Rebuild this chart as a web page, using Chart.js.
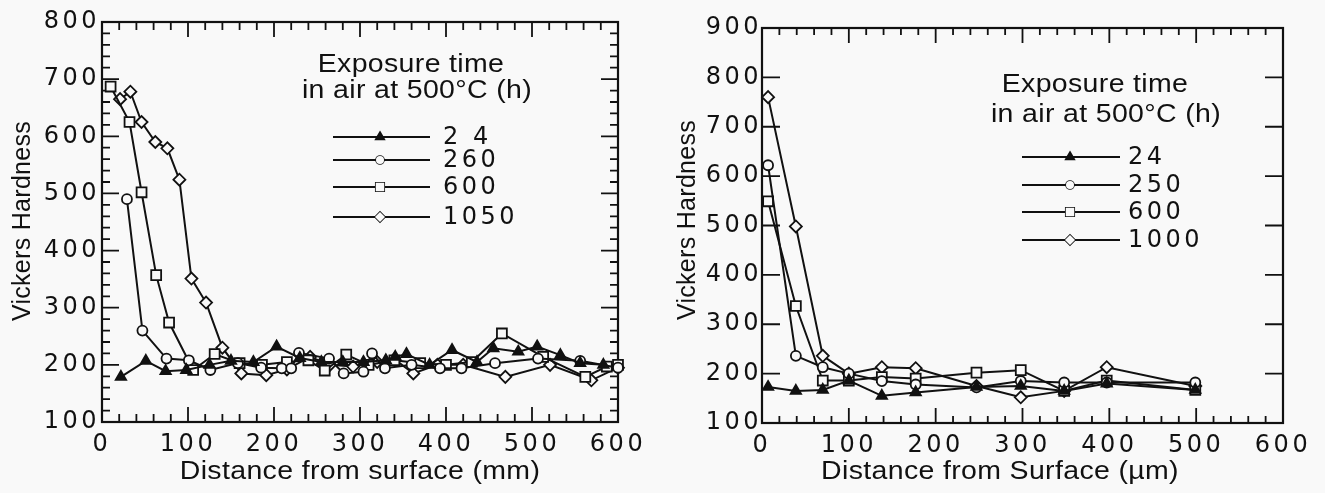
<!DOCTYPE html>
<html>
<head>
<meta charset="utf-8">
<script src="https://cdn.jsdelivr.net/npm/chart.js@4.4.1/dist/chart.umd.min.js"></script>
<style>
  html, body { margin: 0; padding: 0; background: #f9f9f9; }
  #wrap { position: relative; width: 1325px; height: 493px; }
  canvas { position: absolute; top: 0; }
</style>
</head>
<body>
<div id="wrap">
  <canvas id="left" width="660" height="493" style="left:0;width:660px;height:493px"></canvas>
  <canvas id="right" width="665" height="493" style="left:660px;width:665px;height:493px"></canvas>
</div>
<script>
// ---- left panel: hardness profiles, 24 / 260 / 600 / 1050 h ----
const leftLabels = ['2 4', '260', '600', '1050'];
const left24x   = [22, 51, 74, 98, 125, 150, 176, 203, 230, 255, 280, 304, 330, 341, 354, 381, 407, 436, 455, 484, 506, 533, 556, 583];
const left24y   = [179, 207, 189, 191, 200, 207, 205, 232, 212, 205, 205, 205, 208, 214, 219, 200, 226, 205, 229, 223, 232, 217, 203, 200];
const left260x  = [29, 47, 75, 101, 126, 158, 185, 209, 220, 229, 264, 281, 304, 314, 329, 360, 393, 418, 457, 507, 556, 600];
const left260y  = [490, 260, 211, 208, 191, 203, 195, 194, 194, 221, 211, 185, 188, 220, 194, 200, 194, 194, 203, 211, 207, 195];
const left600x  = [10, 32, 46, 63, 78, 106, 131, 160, 186, 215, 240, 259, 284, 310, 340, 370, 400, 430, 465, 513, 562, 587, 600];
const left600y  = [687, 625, 502, 357, 274, 191, 219, 203, 200, 205, 208, 190, 218, 200, 208, 203, 200, 205, 255, 214, 179, 197, 200];
const left1050x = [21, 33, 46, 62, 76, 90, 104, 121, 140, 162, 191, 215, 242, 265, 292, 320, 340, 362, 390, 420, 469, 521, 569, 600];
const left1050y = [665, 678, 625, 590, 579, 524, 351, 309, 230, 185, 182, 192, 214, 200, 197, 205, 210, 185, 200, 200, 179, 200, 173, 195];

// ---- right panel: 24 / 250 / 600 / 1000 h ----
const rightLabels = ['24', '250', '600', '1000'];
const rightX     = [7, 39, 70, 100, 138, 177, 247, 298, 348, 397, 499];
const right24y   = [173, 165, 167, 186, 155, 162, 173, 175, 165, 180, 167];
const right250y  = [622, 236, 213, 200, 185, 178, 172, 185, 182, 182, 182];
const right600y  = [549, 337, 186, 186, 193, 190, 202, 207, 165, 186, 167];
const right1000y = [760, 498, 236, 200, 213, 211, 175, 152, 165, 213, 175];

const INK = '#111';
const BG = '#f9f9f9';

const markers = [
  { pointStyle: 'triangle', pointRadius: 6,   pointBackgroundColor: INK },
  { pointStyle: 'circle',   pointRadius: 5,   pointBackgroundColor: BG },
  { pointStyle: 'rect',     pointRadius: 7,   pointBackgroundColor: BG },
  { pointStyle: 'rectRot',  pointRadius: 6,   pointBackgroundColor: BG }
];

function series(label, xs, ys, i) {
  return Object.assign({
    label,
    data: xs.map((v, k) => ({ x: v, y: ys[k] })),
    showLine: true,
    borderColor: INK,
    borderWidth: 2,
    pointBorderColor: INK,
    pointBorderWidth: 1.8,
    tension: 0,
    clip: false
  }, markers[i]);
}

// box + inward tick marks along the four sides
const frameTicks = {
  id: 'frameTicks',
  beforeDraw(chart) {
    chart.ctx.letterSpacing = '3.5px';
  },
  beforeDatasetsDraw(chart, args, opts) {
    const { ctx, chartArea: a, scales: { x, y } } = chart;
    ctx.save();
    ctx.letterSpacing = '0px';
    ctx.strokeStyle = INK;
    ctx.lineWidth = 2.2;
    ctx.strokeRect(a.left, a.top, a.right - a.left, a.bottom - a.top);
    ctx.lineWidth = 1.8;
    ctx.beginPath();
    const run = (scale, spec, draw) => {
      if (!spec) return;
      for (let v = scale.min; v <= scale.max + 1e-6; v += spec.step) {
        const major = Math.abs(v % 100) < 1e-6;
        const len = major ? spec.major : spec.minor;
        if (len > 0) draw(scale.getPixelForValue(v), len);
      }
    };
    run(x, opts.bottom, (p, l) => { ctx.moveTo(p, a.bottom); ctx.lineTo(p, a.bottom - l); });
    run(x, opts.top,    (p, l) => { ctx.moveTo(p, a.top);    ctx.lineTo(p, a.top + l); });
    run(y, opts.left,   (p, l) => { ctx.moveTo(a.left, p);   ctx.lineTo(a.left + l, p); });
    run(y, opts.right,  (p, l) => { ctx.moveTo(a.right, p);  ctx.lineTo(a.right - l, p); });
    ctx.stroke();
    ctx.restore();
  }
};

// stretched Helvetica-like captions, the legend block and axis titles
function caption(ctx, text, x, y, rot) {
  ctx.save();
  ctx.translate(x, y);
  if (rot) ctx.rotate(-Math.PI / 2); else ctx.scale(1.14, 1);
  ctx.letterSpacing = '0.3px';
  ctx.font = '25px "Liberation Sans", Arial, sans-serif';
  ctx.fillStyle = INK;
  ctx.textAlign = 'center';
  ctx.textBaseline = 'middle';
  ctx.fillText(text, 0, 0);
  ctx.restore();
}

const annotate = {
  id: 'annotate',
  afterDraw(chart, args, o) {
    const ctx = chart.ctx;
    caption(ctx, 'Exposure time', o.head[0], o.head[1]);
    caption(ctx, 'in air at 500\u00B0C (h)', o.head2[0], o.head2[1]);
    chart.data.datasets.forEach((ds, i) => {
      const yy = o.rows[i];
      ctx.save();
      ctx.strokeStyle = INK;
      ctx.lineWidth = 2;
      ctx.beginPath();
      ctx.moveTo(o.line[0], yy);
      ctx.lineTo(o.line[1], yy);
      ctx.stroke();
      ctx.fillStyle = ds.pointBackgroundColor;
      ctx.lineWidth = 1.6;
      Chart.helpers.drawPoint(ctx, {
        pointStyle: ds.pointStyle, radius: ds.pointRadius - 1, borderWidth: 1.6, rotation: 0
      }, o.mark, yy);
      ctx.fill();
      ctx.letterSpacing = '3.5px';
      ctx.font = '24px "DejaVu Sans", sans-serif';
      ctx.fillStyle = INK;
      ctx.textAlign = 'left';
      ctx.textBaseline = 'middle';
      ctx.fillText(ds.label, o.text, yy + 1);
      ctx.restore();
    });
    caption(ctx, o.xTitle, o.xPos[0], o.xPos[1]);
    caption(ctx, 'Vickers Hardness', o.yPos[0], o.yPos[1], true);
  }
};

const tickFont = { family: '"DejaVu Sans", sans-serif', size: 24 };

function panel(id, p) {
  return new Chart(document.getElementById(id), {
    type: 'scatter',
    data: { datasets: p.datasets },
    options: {
      responsive: false,
      animation: false,
      devicePixelRatio: 1,
      layout: { padding: { left: 0, top: p.top, right: p.right, bottom: 0 } },
      plugins: {
        legend: { display: false },
        tooltip: { enabled: false },
        frameTicks: p.ticks,
        annotate: p.notes
      },
      scales: {
        x: {
          type: 'linear', min: 0, max: 600,
          ticks: { stepSize: 100, autoSkip: false, maxRotation: 0, font: tickFont, color: INK, padding: 8 },
          grid: { display: false, drawTicks: false },
          border: { display: false },
          afterFit(s) { s.height = 493 - p.bottom; }
        },
        y: {
          type: 'linear', min: 100, max: p.yMax,
          ticks: { stepSize: 100, autoSkip: false, font: tickFont, color: INK, padding: p.yPad },
          grid: { display: false, drawTicks: false },
          border: { display: false },
          afterFit(s) { s.width = p.leftEdge; }
        }
      }
    },
    plugins: [frameTicks, annotate]
  });
}

panel('left', {
  datasets: [
    series(leftLabels[0], left24x, left24y, 0),
    series(leftLabels[1], left260x, left260y, 1),
    series(leftLabels[2], left600x, left600y, 2),
    series(leftLabels[3], left1050x, left1050y, 3)
  ],
  top: 22, bottom: 422, right: 42, leftEdge: 102, yMax: 800, yPad: 2,
  ticks: {
    bottom: { step: 20, minor: 8, major: 15 },
    top:    { step: 20, minor: 8, major: 15 },
    left:   { step: 20, minor: 8, major: 17 },
    right:  { step: 20, minor: 8, major: 17 }
  },
  notes: {
    head: [411, 65], head2: [417, 91],
    rows: [137, 160, 187, 217], line: [333, 430], mark: 380, text: 443,
    xTitle: 'Distance from surface (mm)', xPos: [360, 472], yPos: [23, 221]
  }
});

panel('right', {
  datasets: [
    series(rightLabels[0], rightX, right24y, 0),
    series(rightLabels[1], rightX, right250y, 1),
    series(rightLabels[2], rightX, right600y, 2),
    series(rightLabels[3], rightX, right1000y, 3)
  ],
  top: 28, bottom: 423, right: 42, leftEdge: 102, yMax: 900, yPad: 0,
  ticks: {
    bottom: { step: 20, minor: 7, major: 15 },
    top:    { step: 20, minor: 7, major: 15 },
    left:   { step: 100, minor: 0, major: 18 },
    right:  { step: 100, minor: 0, major: 18 }
  },
  notes: {
    head: [1095 - 660, 85], head2: [1106 - 660, 115],
    rows: [157, 185, 212, 240], line: [1022 - 660, 1120 - 660], mark: 1070 - 660, text: 1128 - 660,
    xTitle: 'Distance from Surface (\u00B5m)', xPos: [1000 - 660, 472], yPos: [688 - 660, 220]
  }
});
</script>
</body>
</html>
